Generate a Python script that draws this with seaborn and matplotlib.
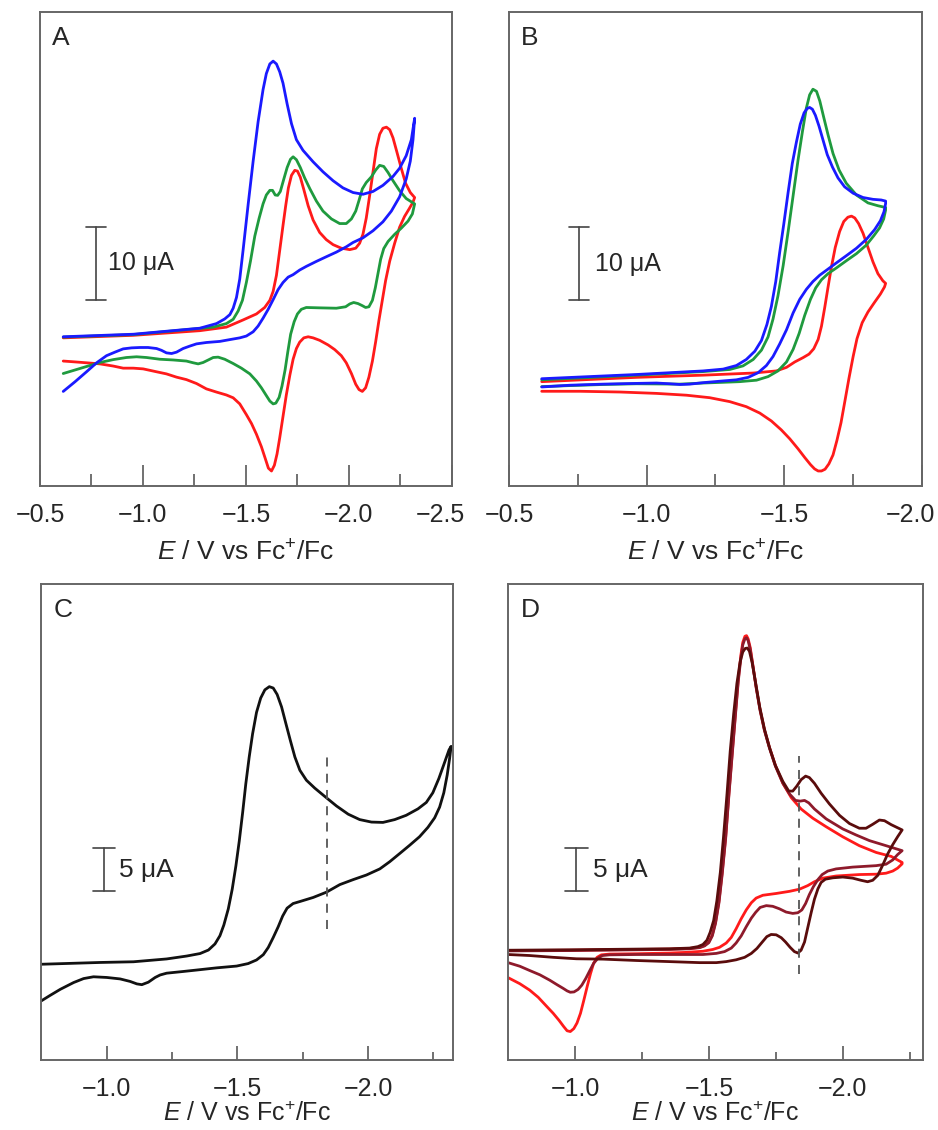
"""
Cyclic voltammograms, four panels (A-D), redrawn with seaborn.
Potential E in V vs Fc+/Fc, current in uA (arbitrary offset, scale bars only).
"""

import pandas as pd
import matplotlib
matplotlib.use("Agg")
import matplotlib.pyplot as plt
from matplotlib.transforms import ScaledTranslation
import seaborn as sns


# =====================================================
# 1. Data
#    each trace: forward sweep (to negative E), then return sweep
# =====================================================

# ---- Panel A ----
A_RED_E = [-0.613, -0.953, -1.276, -1.405, -1.486, -1.551, -1.591, -1.616, -1.632, -1.648,
           -1.664, -1.680, -1.693, -1.706, -1.721, -1.737, -1.750, -1.764, -1.781, -1.802,
           -1.826, -1.858, -1.890, -1.923, -1.963, -2.004, -2.033, -2.052, -2.068, -2.084,
           -2.101, -2.117, -2.133, -2.149, -2.165, -2.182, -2.198, -2.214, -2.233, -2.254,
           -2.275, -2.298, -2.319,
           -2.311, -2.291, -2.270, -2.246, -2.222, -2.198, -2.178, -2.162, -2.146, -2.130,
           -2.114, -2.097, -2.081, -2.065, -2.049, -2.033, -2.012, -1.987, -1.963, -1.931,
           -1.899, -1.858, -1.826, -1.802, -1.781, -1.761, -1.745, -1.729, -1.713, -1.696,
           -1.680, -1.664, -1.651, -1.638, -1.624, -1.609, -1.595, -1.575, -1.551, -1.527,
           -1.502, -1.470, -1.438, -1.405, -1.357, -1.308, -1.260, -1.211, -1.163, -1.114,
           -1.066, -1.001, -0.953, -0.904, -0.856, -0.791, -0.726, -0.662, -0.613]
A_RED_I = [20.44, 20.79, 21.43, 21.92, 22.91, 23.74, 24.63, 25.62, 26.85, 29.06,
           32.51, 35.96, 38.67, 41.13, 42.86, 43.55, 43.45, 42.61, 40.89, 38.67,
           36.70, 34.98, 33.99, 33.30, 32.81, 32.61, 32.81, 33.50, 34.73, 36.95,
           40.15, 43.35, 46.55, 48.52, 49.36, 49.51, 49.16, 48.03, 46.06, 43.84,
           41.77, 40.49, 39.80,
           39.16, 38.18, 37.19, 35.71, 33.50, 31.03, 28.33, 25.62, 22.91, 19.95,
           17.24, 15.02, 13.55, 13.05, 13.30, 14.04, 15.52, 17.00, 17.98, 18.82,
           19.46, 20.10, 20.44, 20.59, 20.44, 19.85, 18.97, 17.49, 15.27, 12.56,
           9.61, 6.65, 4.43, 2.86, 2.07, 2.46, 3.69, 5.42, 7.14, 8.62,
           9.85, 11.33, 12.17, 12.56, 12.96, 13.40, 14.14, 14.68, 15.02, 15.47,
           15.76, 16.16, 16.26, 16.26, 16.55, 16.85, 17.00, 17.14, 17.24]

A_GREEN_E = [-0.613, -0.953, -1.341, -1.405, -1.438, -1.462, -1.483, -1.502, -1.522, -1.543,
             -1.564, -1.583, -1.599, -1.616, -1.629, -1.642, -1.654, -1.667, -1.684, -1.700,
             -1.716, -1.729, -1.745, -1.764, -1.785, -1.810, -1.842, -1.874, -1.915, -1.955,
             -1.987, -2.012, -2.033, -2.049, -2.065, -2.084, -2.109, -2.130, -2.149, -2.169,
             -2.190, -2.214, -2.246, -2.278, -2.319,
             -2.308, -2.287, -2.254, -2.222, -2.190, -2.169, -2.154, -2.141, -2.128, -2.114,
             -2.097, -2.081, -2.065, -2.044, -2.023, -2.004, -1.984, -1.939, -1.858, -1.793,
             -1.769, -1.750, -1.734, -1.717, -1.703, -1.690, -1.675, -1.661, -1.645, -1.632,
             -1.616, -1.596, -1.575, -1.551, -1.519, -1.478, -1.438, -1.397, -1.365, -1.341,
             -1.317, -1.292, -1.268, -1.244, -1.211, -1.147, -1.082, -1.017, -0.969, -0.920,
             -0.856, -0.791, -0.710, -0.613]
A_GREEN_I = [20.54, 20.89, 21.92, 22.41, 23.00, 24.14, 25.62, 28.08, 31.03, 34.48,
             36.95, 38.92, 40.15, 40.79, 40.79, 40.15, 40.10, 40.64, 42.36, 43.94,
             45.07, 45.42, 45.02, 43.94, 42.51, 41.03, 39.31, 37.93, 36.85, 36.21,
             36.21, 36.85, 37.93, 39.41, 40.99, 41.87, 42.66, 43.60, 44.24, 44.09,
             43.25, 42.12, 40.74, 39.66, 38.92,
             37.54, 36.55, 35.57, 34.73, 33.74, 32.76, 31.28, 29.31, 27.34, 25.62,
             24.73, 24.63, 24.88, 25.17, 25.32, 25.12, 24.73, 24.53, 24.58, 24.63,
             24.38, 23.74, 22.66, 20.94, 18.47, 16.01, 13.79, 12.22, 11.43, 11.33,
             11.72, 12.61, 13.55, 14.48, 15.47, 16.26, 16.90, 17.49, 17.78, 17.73,
             17.39, 17.04, 16.85, 17.00, 17.24, 17.39, 17.49, 17.73, 17.83, 17.73,
             17.44, 17.04, 16.35, 15.52]

A_BLUE_E = [-0.613, -0.953, -1.276, -1.357, -1.397, -1.422, -1.438, -1.454, -1.470, -1.486,
            -1.511, -1.535, -1.559, -1.583, -1.599, -1.616, -1.632, -1.648, -1.664, -1.680,
            -1.700, -1.721, -1.745, -1.777, -1.826, -1.874, -1.923, -1.971, -2.020, -2.068,
            -2.117, -2.165, -2.214, -2.246, -2.278, -2.303, -2.319,
            -2.311, -2.298, -2.278, -2.246, -2.206, -2.165, -2.117, -2.068, -2.020, -1.987,
            -1.939, -1.890, -1.842, -1.793, -1.761, -1.729, -1.705, -1.680, -1.656, -1.632,
            -1.608, -1.583, -1.559, -1.535, -1.502, -1.470, -1.422, -1.373, -1.308, -1.260,
            -1.228, -1.195, -1.163, -1.139, -1.114, -1.090, -1.066, -1.025, -0.985, -0.945,
            -0.904, -0.864, -0.823, -0.775, -0.726, -0.670, -0.613]
A_BLUE_I = [20.59, 20.94, 21.77, 22.41, 23.05, 23.65, 24.53, 26.01, 28.57, 32.51,
            38.92, 44.83, 50.25, 54.68, 56.90, 58.23, 58.62, 58.23, 57.14, 55.57,
            52.71, 50.00, 47.78, 46.31, 44.73, 43.35, 42.12, 41.13, 40.49, 40.25,
            40.64, 41.48, 42.71, 43.84, 45.57, 47.78, 50.74,
            47.78, 44.83, 42.36, 39.90, 37.93, 36.45, 35.22, 34.24, 33.60, 33.00,
            32.27, 31.63, 30.99, 30.30, 29.80, 29.16, 28.82, 28.08, 27.09, 25.71,
            24.38, 23.15, 22.07, 21.28, 20.69, 20.44, 20.20, 19.95, 19.80, 19.61,
            19.31, 18.97, 18.47, 18.28, 18.37, 18.72, 18.97, 19.11, 19.11, 19.06,
            18.92, 18.47, 17.98, 17.00, 15.76, 14.38, 13.05]

# ---- Panel B ----
B_RED_E = [-0.619, -0.963, -1.205, -1.387, -1.471, -1.508, -1.538, -1.568, -1.590, -1.607,
           -1.623, -1.635, -1.647, -1.659, -1.671, -1.685, -1.701, -1.716, -1.731, -1.744,
           -1.756, -1.770, -1.786, -1.804, -1.822, -1.840, -1.858, -1.868,
           -1.864, -1.849, -1.828, -1.804, -1.783, -1.764, -1.750, -1.735, -1.720, -1.706,
           -1.691, -1.677, -1.662, -1.648, -1.635, -1.623, -1.610, -1.595, -1.574, -1.550,
           -1.520, -1.489, -1.453, -1.411, -1.362, -1.302, -1.229, -1.145, -1.036, -0.903,
           -0.758, -0.619]
B_RED_I = [14.31, 14.90, 15.20, 15.49, 15.78, 16.27, 17.01, 17.60, 18.09, 18.82,
           20.10, 21.91, 24.51, 27.30, 30.00, 32.70, 34.90, 36.27, 36.86, 37.01,
           36.76, 35.98, 34.66, 32.70, 30.74, 29.12, 28.14, 27.79,
           27.30, 26.32, 25.20, 23.87, 22.40, 20.20, 17.75, 14.80, 11.62, 8.68,
           6.23, 4.26, 3.04, 2.30, 2.06, 2.06, 2.35, 2.94, 3.92, 5.10,
           6.47, 7.70, 8.92, 10.00, 10.88, 11.57, 12.11, 12.45, 12.70, 12.89,
           12.99, 12.99]

B_GREEN_E = [-0.619, -0.963, -1.205, -1.302, -1.350, -1.387, -1.417, -1.441, -1.459, -1.477,
             -1.496, -1.514, -1.532, -1.550, -1.566, -1.580, -1.592, -1.604, -1.617, -1.629,
             -1.643, -1.659, -1.677, -1.699, -1.725, -1.762, -1.804, -1.840, -1.868,
             -1.868, -1.861, -1.846, -1.825, -1.798, -1.762, -1.725, -1.689, -1.659, -1.635,
             -1.614, -1.595, -1.574, -1.554, -1.532, -1.508, -1.477, -1.441, -1.399, -1.338,
             -1.278, -1.205, -1.121, -0.963, -0.842, -0.721, -0.619]
B_GREEN_I = [14.56, 15.20, 15.69, 15.98, 16.47, 17.35, 18.63, 20.44, 22.89, 26.08,
             30.25, 34.90, 39.80, 44.71, 48.63, 51.81, 53.63, 54.41, 54.12, 52.79,
             50.59, 48.14, 45.59, 43.33, 41.52, 39.90, 38.82, 38.43, 38.19,
             37.84, 36.62, 35.39, 34.31, 33.04, 31.86, 30.88, 29.90, 29.12, 28.28,
             27.16, 25.59, 23.38, 20.93, 18.73, 17.01, 15.78, 15.00, 14.51, 14.31,
             14.22, 14.12, 13.97, 14.02, 13.92, 13.77, 13.63]

B_BLUE_E = [-0.619, -0.963, -1.205, -1.278, -1.326, -1.362, -1.393, -1.417, -1.437, -1.453,
            -1.469, -1.483, -1.498, -1.514, -1.529, -1.544, -1.558, -1.572, -1.583, -1.592,
            -1.602, -1.613, -1.626, -1.641, -1.656, -1.675, -1.695, -1.719, -1.750, -1.786,
            -1.822, -1.852, -1.868,
            -1.868, -1.862, -1.849, -1.828, -1.798, -1.762, -1.725, -1.689, -1.659, -1.629,
            -1.604, -1.580, -1.556, -1.532, -1.508, -1.483, -1.459, -1.435, -1.405, -1.369,
            -1.326, -1.278, -1.205, -1.157, -1.121, -1.084, -1.036, -0.963, -0.842, -0.721,
            -0.619]
B_BLUE_I = [14.71, 15.29, 15.78, 16.03, 16.52, 17.35, 18.48, 19.95, 22.16, 24.61,
            28.04, 31.96, 35.88, 40.29, 44.22, 47.16, 49.61, 51.18, 51.76, 51.91,
            51.67, 50.83, 49.36, 47.40, 45.44, 43.73, 42.25, 41.03, 40.15, 39.56,
            39.31, 39.22, 39.07,
            38.73, 37.60, 36.37, 35.15, 33.82, 32.60, 31.57, 30.59, 29.75, 28.92,
            28.04, 26.96, 25.59, 23.73, 21.42, 19.46, 17.75, 16.52, 15.54, 14.90,
            14.56, 14.41, 14.17, 13.97, 13.92, 14.02, 14.12, 14.07, 13.97, 13.82,
            13.58]

# ---- Panel C ----
C_BLACK_E = [-0.748, -0.975, -1.102, -1.229, -1.306, -1.357, -1.389, -1.414, -1.433, -1.448,
             -1.465, -1.480, -1.494, -1.507, -1.520, -1.532, -1.545, -1.558, -1.573, -1.589,
             -1.605, -1.622, -1.637, -1.652, -1.669, -1.685, -1.703, -1.720, -1.739, -1.764,
             -1.796, -1.834, -1.879, -1.924, -1.968, -2.013, -2.057, -2.102, -2.146, -2.191,
             -2.223, -2.248, -2.271, -2.293, -2.310, -2.318,
             -2.312, -2.303, -2.290, -2.274, -2.255, -2.229, -2.197, -2.159, -2.121, -2.083,
             -2.045, -1.994, -1.943, -1.892, -1.841, -1.790, -1.745, -1.713, -1.690, -1.673,
             -1.656, -1.637, -1.618, -1.599, -1.573, -1.541, -1.497, -1.420, -1.357, -1.293,
             -1.229, -1.204, -1.185, -1.159, -1.134, -1.115, -1.089, -1.051, -1.000, -0.949,
             -0.911, -0.873, -0.822, -0.783, -0.748]
C_BLACK_I = [11.17, 11.38, 11.46, 11.79, 12.13, 12.42, 12.83, 13.54, 14.50, 15.75,
             17.63, 19.92, 22.63, 25.54, 28.88, 32.21, 35.33, 38.04, 40.54, 42.21,
             43.17, 43.54, 43.38, 42.63, 41.17, 39.29, 37.21, 35.33, 33.79, 32.63,
             31.71, 30.75, 29.63, 28.67, 28.04, 27.75, 27.71, 28.04, 28.54, 29.29,
             30.04, 31.17, 32.83, 34.71, 36.17, 36.58,
             35.13, 33.25, 31.17, 29.50, 28.25, 27.13, 26.04, 25.04, 24.08, 23.13,
             22.29, 21.58, 21.04, 20.46, 19.58, 18.96, 18.54, 18.25, 17.71, 16.79,
             15.54, 14.29, 13.13, 12.29, 11.67, 11.25, 10.96, 10.75, 10.54, 10.33,
             10.13, 9.92, 9.63, 9.08, 8.79, 8.88, 9.17, 9.46, 9.63, 9.71,
             9.50, 9.04, 8.25, 7.54, 6.88]

# ---- Panel D ----
D_RED_E = [-0.748, -0.979, -1.228, -1.352, -1.427, -1.465, -1.483, -1.499, -1.512, -1.524,
           -1.537, -1.549, -1.562, -1.574, -1.587, -1.599, -1.609, -1.619, -1.626, -1.634,
           -1.640, -1.646, -1.654, -1.664, -1.676, -1.691, -1.707, -1.726, -1.748, -1.776,
           -1.807, -1.844, -1.888, -1.938, -2.000, -2.062, -2.125, -2.181, -2.222,
           -2.222, -2.205, -2.187, -2.162, -2.125, -2.062, -1.975, -1.925, -1.894, -1.869,
           -1.838, -1.801, -1.751, -1.701, -1.676, -1.658, -1.639, -1.620, -1.601, -1.583,
           -1.564, -1.539, -1.514, -1.477, -1.415, -1.352, -1.228, -1.128, -1.097, -1.081,
           -1.068, -1.056, -1.044, -1.031, -1.019, -1.006, -0.994, -0.981, -0.969, -0.956,
           -0.939, -0.917, -0.892, -0.861, -0.829, -0.792, -0.748]
D_RED_I = [12.79, 12.83, 12.92, 12.96, 13.04, 13.17, 13.38, 13.79, 14.63, 16.08,
           18.58, 21.92, 26.08, 31.08, 36.08, 40.67, 44.42, 47.33, 48.79, 49.50,
           49.58, 49.21, 48.17, 46.08, 43.58, 40.88, 38.58, 36.50, 34.42, 32.33,
           30.67, 29.33, 28.25, 27.25, 26.08, 25.04, 24.25, 23.79, 23.08,
           22.92, 22.42, 22.08, 21.83, 21.71, 21.67, 21.50, 21.25, 20.83, 20.38,
           19.96, 19.71, 19.46, 19.25, 18.92, 18.38, 17.54, 16.50, 15.33, 14.33,
           13.67, 13.17, 12.92, 12.71, 12.58, 12.50, 12.42, 12.38, 12.29, 12.00,
           11.29, 10.04, 8.58, 6.92, 5.46, 4.33, 3.67, 3.33, 3.42, 3.92,
           4.63, 5.46, 6.29, 7.33, 8.17, 8.92, 9.63]

D_MAROON_E = [-0.748, -0.979, -1.228, -1.352, -1.427, -1.465, -1.483, -1.499, -1.512, -1.524,
              -1.537, -1.549, -1.562, -1.574, -1.587, -1.599, -1.609, -1.619, -1.626, -1.634,
              -1.640, -1.646, -1.654, -1.664, -1.676, -1.691, -1.707, -1.726, -1.748, -1.776,
              -1.801, -1.823, -1.841, -1.857, -1.873, -1.894, -1.938, -2.000, -2.050, -2.100,
              -2.162, -2.222,
              -2.205, -2.187, -2.162, -2.125, -2.037, -1.975, -1.944, -1.923, -1.907, -1.890,
              -1.875, -1.861, -1.847, -1.832, -1.813, -1.788, -1.763, -1.738, -1.714, -1.691,
              -1.674, -1.658, -1.639, -1.620, -1.601, -1.583, -1.558, -1.527, -1.477, -1.352,
              -1.228, -1.128, -1.101, -1.085, -1.068, -1.054, -1.039, -1.024, -1.010, -0.995,
              -0.981, -0.969, -0.954, -0.932, -0.904, -0.867, -0.829, -0.792, -0.748]
D_MAROON_I = [12.75, 12.79, 12.88, 12.92, 13.00, 13.13, 13.33, 13.71, 14.50, 15.96,
              18.38, 21.71, 25.88, 30.88, 35.88, 40.46, 44.21, 47.00, 48.50, 49.21,
              49.33, 49.00, 47.96, 46.00, 43.50, 40.79, 38.50, 36.42, 34.33, 32.33,
              31.08, 30.33, 30.25, 30.33, 30.04, 29.33, 28.17, 27.00, 26.29, 25.63,
              25.04, 24.46,
              24.00, 23.38, 22.88, 22.71, 22.54, 22.33, 22.08, 21.67, 21.08, 20.25,
              19.33, 18.29, 17.54, 17.21, 17.13, 17.29, 17.67, 17.96, 18.04, 17.83,
              17.25, 16.58, 15.58, 14.50, 13.67, 13.08, 12.67, 12.46, 12.33, 12.33,
              12.33, 12.29, 12.21, 11.92, 11.29, 10.46, 9.54, 8.75, 8.25, 7.96,
              7.92, 8.08, 8.38, 8.79, 9.33, 9.96, 10.46, 10.96, 11.38]

D_DARK_E = [-0.748, -0.979, -1.228, -1.352, -1.427, -1.458, -1.477, -1.492, -1.504, -1.517,
            -1.529, -1.542, -1.554, -1.567, -1.579, -1.592, -1.604, -1.616, -1.626, -1.635,
            -1.643, -1.651, -1.661, -1.674, -1.689, -1.707, -1.726, -1.748, -1.776, -1.798,
            -1.813, -1.828, -1.844, -1.861, -1.875, -1.894, -1.919, -1.950, -1.988, -2.025,
            -2.062, -2.087, -2.112, -2.137, -2.156, -2.181, -2.222,
            -2.205, -2.187, -2.168, -2.149, -2.131, -2.112, -2.093, -2.068, -2.037, -2.000,
            -1.963, -1.935, -1.919, -1.907, -1.894, -1.882, -1.869, -1.857, -1.844, -1.832,
            -1.819, -1.803, -1.786, -1.770, -1.751, -1.732, -1.716, -1.699, -1.679, -1.658,
            -1.633, -1.601, -1.564, -1.527, -1.465, -1.352, -1.228, -1.103, -1.004, -0.917,
            -0.829, -0.748]
D_DARK_I = [12.83, 12.88, 12.96, 13.00, 13.08, 13.25, 13.50, 14.00, 14.92, 16.29,
            18.58, 21.92, 26.08, 31.08, 36.08, 40.46, 44.00, 46.50, 47.67, 48.08,
            48.13, 47.75, 46.42, 44.08, 41.29, 38.67, 36.50, 34.42, 32.54, 31.42,
            31.42, 32.00, 32.75, 33.17, 33.00, 32.33, 31.17, 29.92, 28.58, 27.63,
            27.08, 27.08, 27.54, 28.04, 27.96, 27.50, 26.88,
            26.08, 25.17, 24.08, 22.75, 21.58, 21.00, 20.83, 21.00, 21.25, 21.38,
            21.29, 21.13, 20.75, 20.00, 18.79, 17.25, 15.46, 13.79, 12.83, 12.50,
            12.67, 13.17, 13.79, 14.29, 14.63, 14.67, 14.42, 13.79, 13.04, 12.46,
            12.00, 11.71, 11.50, 11.38, 11.38, 11.50, 11.63, 11.79, 11.83, 12.00,
            12.21, 12.33]

# ---- Axis ticks ----
A_MAJOR = [-0.5, -1.0, -1.5, -2.0, -2.5]
A_MINOR = [-0.75, -1.25, -1.75, -2.25]
B_MAJOR = [-0.5, -1.0, -1.5, -2.0]
B_MINOR = [-0.75, -1.25, -1.75]
CD_MAJOR = [-1.0, -1.5, -2.0]
CD_MINOR = [-1.25, -1.75, -2.25]


# =====================================================
# 2. Style helpers
# =====================================================

sns.set_style("white")
plt.rcParams["font.family"] = ["Liberation Sans", "DejaVu Sans"]
plt.rcParams["mathtext.fontset"] = "custom"
plt.rcParams["mathtext.rm"] = "Liberation Sans"
plt.rcParams["mathtext.it"] = "Liberation Sans:italic"

AXIS_COLOR = "#666666"
BAR_COLOR = "#444444"
XLABEL = r"$E$ / V vs Fc$^{+}$/Fc"


def tick_text(values):
    return [f"{v:.1f}".replace("-", "\u2212") for v in values]


def draw_cv(ax, curves, palette):
    """
    Plot each trace in sweep order (no sorting, no aggregation).
    """
    frames = [pd.DataFrame({"E": e, "I": i, "trace": name})
              for name, (e, i) in curves.items()]
    df = pd.concat(frames, ignore_index=True)
    sns.lineplot(data=df, x="E", y="I", hue="trace", palette=palette,
                 sort=False, estimator=None, legend=False, ax=ax,
                 linewidth=2.0, solid_joinstyle="round", solid_capstyle="round")


def style_axes(ax, xlim, ylim, major, minor, major_len, minor_len, letter,
               labelpad=10, label_size=19, shift_last=False):
    ax.set_xlim(*xlim)
    ax.set_ylim(*ylim)
    ax.set_xticks(major)
    ax.set_xticklabels(tick_text(major))
    ax.set_xticks(minor, minor=True)
    ax.set_yticks([])
    ax.tick_params(axis="x", which="both", direction="in", bottom=True, top=False,
                   color=AXIS_COLOR, width=1.3, pad=12, labelsize=18)
    ax.tick_params(axis="x", which="major", length=major_len)
    ax.tick_params(axis="x", which="minor", length=minor_len)
    for spine in ax.spines.values():
        spine.set_visible(True)
        spine.set_color(AXIS_COLOR)
        spine.set_linewidth(1.4)
    ax.set_xlabel(XLABEL, fontsize=label_size, labelpad=labelpad)
    ax.set_ylabel("")
    ax.text(0.03, 0.945, letter, transform=ax.transAxes, fontsize=19,
            ha="left", va="center")
    if shift_last:
        # the edge label sits a little inside, as in the original
        lbl = ax.xaxis.get_major_ticks()[-1].label1
        lbl.set_transform(lbl.get_transform()
                          + ScaledTranslation(-0.12, 0, fig.dpi_scale_trans))


def scale_bar(ax, x, y0, y1, half, text_x, label, size):
    ax.plot([x, x], [y0, y1], color=BAR_COLOR, lw=1.2)
    ax.plot([x - half, x + half], [y0, y0], color=BAR_COLOR, lw=1.2)
    ax.plot([x - half, x + half], [y1, y1], color=BAR_COLOR, lw=1.2)
    ax.text(text_x, (y0 + y1) / 2, label, fontsize=size, ha="left", va="center")


def dashed_marker(ax, x, y0, y1):
    ax.plot([x, x], [y0, y1], color="#555555", lw=1.3, linestyle=(0, (5, 4)))


# =====================================================
# 3. Figure
# =====================================================

fig = plt.figure(figsize=(9.38, 11.3), dpi=100)
ax_a = fig.add_axes([0.0426, 0.5699, 0.4392, 0.4195])
ax_b = fig.add_axes([0.5426, 0.5699, 0.4403, 0.4195])
ax_c = fig.add_axes([0.0437, 0.0619, 0.4392, 0.4212])
ax_d = fig.add_axes([0.5416, 0.0619, 0.4424, 0.4212])

RED = "#ff1a1a"
GREEN = "#1f9a3e"
BLUE = "#1a1aff"

draw_cv(ax_a, {"red": (A_RED_E, A_RED_I), "green": (A_GREEN_E, A_GREEN_I),
               "blue": (A_BLUE_E, A_BLUE_I)},
        {"red": RED, "green": GREEN, "blue": BLUE})
style_axes(ax_a, (-0.5, -2.5), (0, 65.4), A_MAJOR, A_MINOR, 15, 9, "A",
           shift_last=True)
scale_bar(ax_a, -0.772, 25.7, 35.7, 0.0485, -0.831, "10 \u03bcA", 18)

draw_cv(ax_b, {"red": (B_RED_E, B_RED_I), "green": (B_GREEN_E, B_GREEN_I),
               "blue": (B_BLUE_E, B_BLUE_I)},
        {"red": RED, "green": GREEN, "blue": BLUE})
style_axes(ax_b, (-0.5, -2.0), (0, 65.0), B_MAJOR, B_MINOR, 15, 9, "B",
           shift_last=True)
scale_bar(ax_b, -0.754, 25.5, 35.5, 0.036, -0.812, "10 \u03bcA", 18)

draw_cv(ax_c, {"black": (C_BLACK_E, C_BLACK_I)}, {"black": "#111111"})
style_axes(ax_c, (-0.748, -2.325), (0, 55.5), CD_MAJOR, CD_MINOR, 10, 5.5, "C",
           labelpad=1, label_size=18)
scale_bar(ax_c, -0.991, 19.7, 24.7, 0.042, -1.045, "5 \u03bcA", 19)
dashed_marker(ax_c, -1.841, 15.3, 36.0)

draw_cv(ax_d, {"red": (D_RED_E, D_RED_I), "maroon": (D_MAROON_E, D_MAROON_I),
               "dark": (D_DARK_E, D_DARK_I)},
        {"red": RED, "maroon": "#8e1a2b", "dark": "#5a0c0c"})
style_axes(ax_d, (-0.748, -2.30), (0, 55.6), CD_MAJOR, CD_MINOR, 10, 5.5, "D",
           labelpad=1, label_size=18)
scale_bar(ax_d, -1.004, 19.75, 24.75, 0.042, -1.064, "5 \u03bcA", 19)
dashed_marker(ax_d, -1.838, 10.0, 35.5)

fig.savefig("out.png", dpi=100)
